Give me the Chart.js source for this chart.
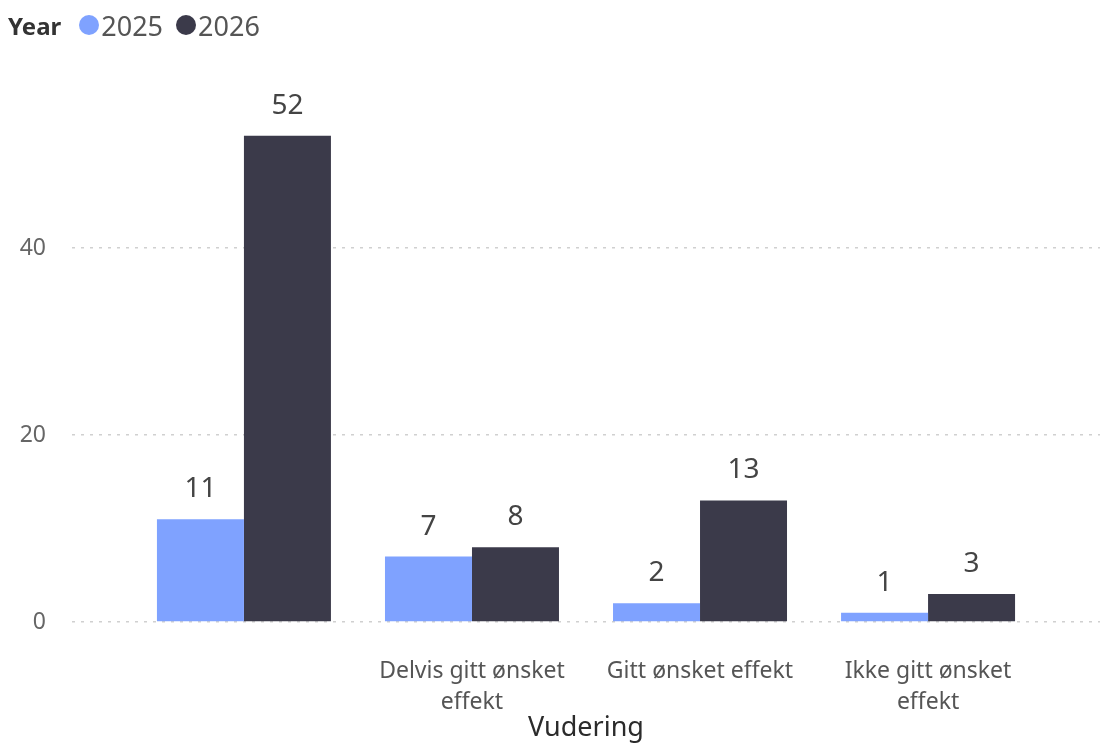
<!DOCTYPE html>
<html>
<head>
<meta charset="utf-8">
<script src="https://cdn.jsdelivr.net/npm/chart.js@4"></script>
<style>
  body { margin: 0; background: #fff; font-family: "Segoe UI", "Noto Sans", sans-serif; }
  #wrap { position: relative; width: 1106px; height: 745px; }
  #legend { position: absolute; left: 8px; top: 6px; height: 38px; font-size: 27px; color: #555; display: flex; align-items: center; }
  #legend b { color: #333; font-size: 24px; margin-right: 18px; }
  .dot { display: inline-block; width: 20px; height: 20px; border-radius: 50%; margin-right: 2px; }
  .item { display: flex; align-items: center; margin-right: 13px; }
</style>
</head>
<body>
<div id="wrap">
  <canvas id="myChart" width="1106" height="745"></canvas>
  <div id="legend"></div>
</div>
<script>
var categories = ['', ['Delvis gitt ønsket', 'effekt'], 'Gitt ønsket effekt', ['Ikke gitt ønsket', 'effekt']];
var years = ['2025', '2026'];
var values2025 = [11, 7, 2, 1];
var values2026 = [52, 8, 13, 3];
var yTicks = [0, 20, 40];
var colors = ['#7fa2ff', '#3b3a4a'];

// legend as html
var legend = document.getElementById('legend');
var html = '<b>Year</b>';
years.forEach(function(y, i) {
    html += '<span class="item"><span class="dot" style="background:' + colors[i] + '"></span>' + y + '</span>';
});
legend.innerHTML = html;

function points(arr) {
    return arr.map(function(v, i) { return { x: i, y: v }; });
}

var barLabels = {
    id: 'barLabels',
    afterDatasetsDraw: function(chart) {
        var ctx = chart.ctx;
        ctx.save();
        ctx.font = '28px "Segoe UI", "Noto Sans", sans-serif';
        ctx.fillStyle = '#444';
        ctx.textAlign = 'center';
        ctx.textBaseline = 'middle';
        chart.data.datasets.forEach(function(ds, di) {
            chart.getDatasetMeta(di).data.forEach(function(bar, i) {
                ctx.fillText(ds.data[i].y, bar.x, bar.y - 30);
            });
        });
        ctx.restore();
    }
};

var ctx = document.getElementById('myChart').getContext('2d');
var myChart = new Chart(ctx, {
    type: 'bar',
    data: {
        datasets: [
            { label: years[0], data: points(values2025), backgroundColor: colors[0] },
            { label: years[1], data: points(values2026), backgroundColor: colors[1] }
        ]
    },
    options: {
        responsive: false,
        animation: false,
        categoryPercentage: 0.763,
        barPercentage: 1,
        layout: { padding: { top: 61, right: 6, left: 0, bottom: 0 } },
        plugins: {
            legend: { display: false },
            tooltip: { enabled: false }
        },
        scales: {
            x: {
                type: 'linear',
                offset: false,
                min: -0.754,
                max: 3.754,
                grid: { display: false, offset: false },
                border: { display: false },
                afterBuildTicks: function(axis) {
                    axis.ticks = categories.map(function(c, i) { return { value: i }; });
                },
                afterFit: function(axis) { axis.height = 123; },
                ticks: {
                    padding: 26,
                    maxRotation: 0,
                    autoSkip: false,
                    color: '#555',
                    font: { size: 23, family: '"Segoe UI", "Noto Sans", sans-serif', lineHeight: 1.35 },
                    callback: function(value) { return categories[value]; }
                },
                title: {
                    display: true,
                    text: 'Vudering',
                    color: '#2b2b2b',
                    padding: { top: 0, bottom: 0 },
                    font: { size: 27, family: '"Segoe UI", "Noto Sans", sans-serif' }
                }
            },
            y: {
                min: 0,
                max: 60,
                border: { display: false, dash: [3, 6] },
                afterBuildTicks: function(axis) {
                    axis.ticks = yTicks.map(function(v) { return { value: v }; });
                },
                afterFit: function(axis) { axis.width = 72; },
                grid: {
                    color: '#d0d0d0',
                    lineWidth: 1.5,
                    drawTicks: false
                },
                ticks: {
                    padding: 26,
                    color: '#666',
                    font: { size: 23, family: '"Segoe UI", "Noto Sans", sans-serif' }
                }
            }
        }
    },
    plugins: [barLabels]
});
</script>
</body>
</html>
